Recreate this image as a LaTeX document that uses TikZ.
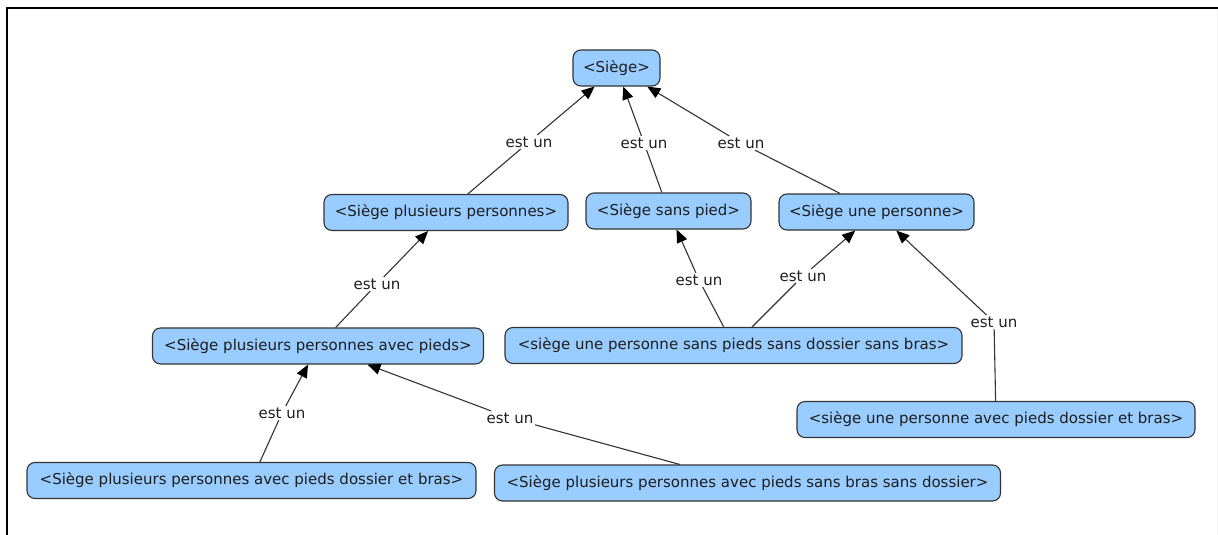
\documentclass[tikz,border=0pt]{standalone}
\usepackage{fontspec}
\setmainfont{DejaVu Sans}
\usetikzlibrary{arrows.meta}
\definecolor{nodefill}{RGB}{153,204,255}
\definecolor{linecol}{RGB}{51,51,51}
\definecolor{txtcol}{RGB}{30,30,30}
\begin{document}
\begin{tikzpicture}[x=1pt,y=-1pt,
  concept/.style={draw=linecol, line width=1.1pt, fill=nodefill, rounded corners=8pt,
    minimum height=36pt, inner sep=0pt, font=\fontsize{15}{18}\selectfont, text=txtcol},
  linklabel/.style={font=\fontsize{15}{18}\selectfont, inner sep=1.5pt, text=txtcol},
  link/.style={draw=linecol, line width=1.1pt},
  arrowlink/.style={link, -{Triangle[length=13pt,width=11pt,color=black]}}]
\useasboundingbox (0,0) rectangle (1218,535);
\draw[line width=2pt] (7,535) -- (7,8) -- (1218,8);
\draw[gray!10, line width=1pt] (1217,9) -- (1217,535);

% concepts
\node[concept, minimum width=87pt]  (siege)  at (616.5,68)   {<Siège>};
\node[concept, minimum width=244pt] (plus)   at (446,212.5)  {<Siège plusieurs personnes>};
\node[concept, minimum width=165pt] (sans)   at (668.5,211)  {<Siège sans pied>};
\node[concept, minimum width=195pt] (une)    at (876.5,212)  {<Siège une personne>};
\node[concept, minimum width=331pt] (pluspi) at (318,346)    {<Siège plusieurs personnes avec pieds>};
\node[concept, minimum width=457pt] (unesp)  at (733.5,345.5){<siège une personne sans pieds sans dossier sans bras>};
\node[concept, minimum width=398pt] (uneap)  at (996,419.5)  {<siège une personne avec pieds dossier et bras>};
\node[concept, minimum width=449pt] (plusdb) at (251.5,480.5){<Siège plusieurs personnes avec pieds dossier et bras>};
\node[concept, minimum width=506pt] (plussb) at (747.5,483)  {<Siège plusieurs personnes avec pieds sans bras sans dossier>};

% link labels
\node[linklabel] (l21) at (529,142) {est un};
\node[linklabel] (l31) at (644,143) {est un};
\node[linklabel] (l41) at (741,143) {est un};
\node[linklabel] (l52) at (377,284) {est un};
\node[linklabel] (l63) at (699,280) {est un};
\node[linklabel] (l64) at (803,276) {est un};
\node[linklabel] (l74) at (994,322) {est un};
\node[linklabel] (l85) at (282,413) {est un};
\node[linklabel] (l95) at (510,418) {est un};

% links
\draw[link] (plus) -- (l21);   \draw[arrowlink] (l21) -- (siege);
\draw[link] (sans) -- (l31);   \draw[arrowlink] (l31) -- (siege);
\draw[link] (une) -- (l41);    \draw[arrowlink] (l41) -- (siege);
\draw[link] (pluspi) -- (l52); \draw[arrowlink] (l52) -- (plus);
\draw[link] (unesp) -- (l63);  \draw[arrowlink] (l63) -- (sans);
\draw[link] (unesp) -- (l64);  \draw[arrowlink] (l64) -- (une);
\draw[link] (uneap) -- (l74);  \draw[arrowlink] (l74) -- (une);
\draw[link] (plusdb) -- (l85); \draw[arrowlink] (l85) -- (pluspi);
\draw[link] (plussb) -- (l95); \draw[arrowlink] (l95) -- (pluspi);
\end{tikzpicture}
\end{document}
